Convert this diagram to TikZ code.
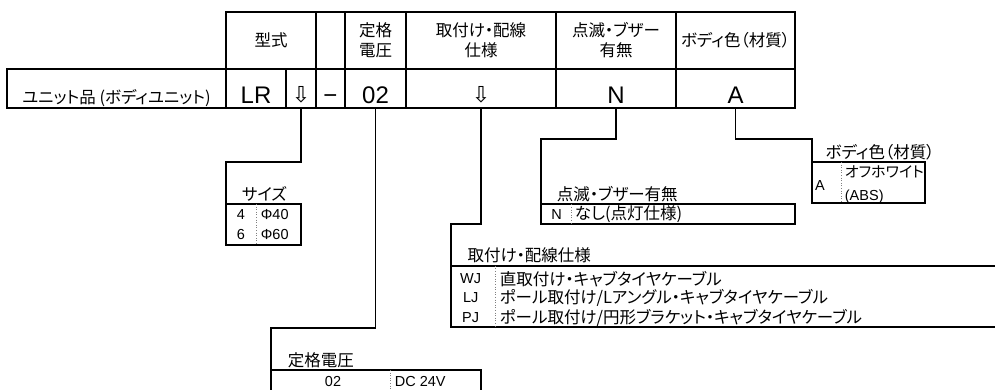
\documentclass[tikz,border=0pt]{standalone}
\usepackage{fontspec}
\setmainfont{Liberation Sans}
\newfontfamily\jp[RawFeature=+palt]{Noto Sans CJK JP}
\newfontfamily\dvs{DejaVu Sans}
\begin{document}
\begin{tikzpicture}[x=1pt,y=-1pt,line width=1.8pt,
  cell/.style={draw,rectangle,inner sep=0pt,outer sep=0pt,align=center},
  rowcell/.style={cell,minimum height=39pt},
  hdrcell/.style={cell,minimum height=57pt,font=\jp\fontsize{16.5}{20}\selectfont},
  big/.style={font=\fontsize{24}{26}\selectfont,text height=29.2pt,text depth=0pt},
  arr/.style={font=\dvs\fontsize{22}{24}\selectfont,text height=28.4pt,text depth=0pt},
  box/.style={draw,rectangle,inner sep=0pt,outer sep=0pt,anchor=north west},
  lbl/.style={font=\jp\fontsize{16.5}{18}\selectfont,inner sep=0pt,anchor=south west},
  jtxt/.style={font=\jp\fontsize{16.5}{18}\selectfont,inner sep=0pt,anchor=west},
  ltxt/.style={font=\fontsize{14.5}{16}\selectfont,inner sep=0pt},
  ltxtw/.style={ltxt,anchor=west},
  divl/.style={draw=gray,line width=0.6pt,dotted},
  conn/.style={draw,line width=1.8pt,line join=miter}
]
\useasboundingbox (0,0) rectangle (995,389);
\clip (0,0) rectangle (995,389);

% header row
\node[hdrcell,minimum width=90pt]  (h1) at (271,40.5) {型式};
\node[hdrcell,minimum width=29pt]  (h2) at (330.5,40.5) {};
\node[hdrcell,minimum width=61pt]  (h3) at (375.5,40.5) {定格\\電圧};
\node[hdrcell,minimum width=150pt] (h4) at (481,40.5) {取付け・配線\\仕様};
\node[hdrcell,minimum width=120pt] (h5) at (616,40.5) {点滅・ブザー\\有無};
\node[hdrcell,minimum width=119pt] (h6) at (735.5,40.5) {ボディ色（材質）};

% code row
\node[rowcell,minimum width=219pt,font=\jp\fontsize{16.5}{18}\selectfont,text height=29.6pt,text depth=0pt] (unit) at (116.5,88.5) {ユニット品 (ボディユニット)};
\node[rowcell,minimum width=60pt,big]  (lr)  at (256,88.5) {LR};
\node[rowcell,minimum width=30pt,arr]  (ar1) at (301,88.5) {⇩};
\node[rowcell,minimum width=29pt,big]  (dsh) at (330.5,88.5) {−};
\node[rowcell,minimum width=61pt,big]  (v02) at (375.5,88.5) {02};
\node[rowcell,minimum width=150pt,arr] (ar2) at (481,88.5) {⇩};
\node[rowcell,minimum width=120pt,big] (cn)  at (616,88.5) {N};
\node[rowcell,minimum width=119pt,big] (ca)  at (735.5,88.5) {A};

% option boxes
\node[box,minimum width=75pt,minimum height=41pt]    (sbox) at (226,204) {};
\node[box,minimum width=210pt,minimum height=40pt]   (vbox) at (271,370) {};
\node[box,minimum width=560pt,minimum height=61.3pt] (wbox) at (450.7,265.7) {};
\node[box,minimum width=254.3pt,minimum height=19.7pt] (nbox) at (541,204.3) {};
\node[box,minimum width=113.3pt,minimum height=41.3pt] (abox) at (811.7,162) {};

% connectors
\draw[conn] (ar1.south) -- ++(0,53.7) -| (sbox.north west);
\draw[conn] (v02.south) -- ++(0,219.7) -| (vbox.north west);
\draw[conn] (ar2.south) -- ++(0,116) -| (wbox.north west);
\draw[conn] (cn.south) -- ++(0,31) -| (nbox.north west);
\draw[conn] (ca.south) -- ++(0,31) -| (abox.north west);

% dividers
\draw[divl] ([xshift=30pt]sbox.north west) -- ([xshift=30pt]sbox.south west);
\draw[divl] ([xshift=119.7pt]vbox.north west) -- ([xshift=119.7pt]vbox.south west);
\draw[divl] ([xshift=45pt]wbox.north west) -- ([xshift=45pt]wbox.south west);
\draw[divl] ([xshift=30pt]nbox.north west) -- ([xshift=30pt]nbox.south west);
\draw[divl] ([xshift=30pt]abox.north west) -- ([xshift=30pt]abox.south west);

% labels
\node[lbl] (ls) at ([xshift=15pt,yshift=1.5pt]sbox.north west) {サイズ};
\node[lbl] (lv) at ([xshift=16pt,yshift=1.5pt]vbox.north west) {定格電圧};
\node[lbl] (lw) at ([xshift=16pt,yshift=1.5pt]wbox.north west) {取付け・配線仕様};
\node[lbl] (ln) at ([xshift=15pt,yshift=1.5pt]nbox.north west) {点滅・ブザー有無};
\node[lbl] (la) at ([xshift=13pt,yshift=1.5pt]abox.north west) {ボディ色（材質）};

% size table
\node[ltxt] (s4) at (241,214.3) {4};
\node[ltxt] (s6) at (241,235) {6};
\node[ltxtw] (s40) at (260,214.3) {Φ40};
\node[ltxtw] (s60) at (260,235) {Φ60};

% voltage table
\node[ltxt] (v1) at (333,381) {02};
\node[ltxtw] (v2) at (394,381) {DC 24V};

% wiring table
\node[ltxt] (wj) at (470.7,279) {WJ};
\node[ltxt] (lj) at (470.7,298) {LJ};
\node[ltxt] (pj) at (470.7,318) {PJ};
\node[jtxt] (wjt) at (499,279) {直取付け・キャブタイヤケーブル};
\node[jtxt] (ljt) at (499,298) {ポール取付け/Lアングル・キャブタイヤケーブル};
\node[jtxt] (pjt) at (499,318) {ポール取付け/円形ブラケット・キャブタイヤケーブル};

% N table
\node[ltxt] (nn) at (556.7,214.3) {N};
\node[jtxt] (nt) at (574,214.3) {なし(点灯仕様)};

% A table
\node[ltxt] (aa) at (820,185.5) {A};
\node[jtxt,font=\jp\fontsize{15}{17}\selectfont] (at1) at (844,172) {オフホワイト};
\node[ltxtw] (at2) at (844,196.5) {(ABS)};
\end{tikzpicture}
\end{document}
